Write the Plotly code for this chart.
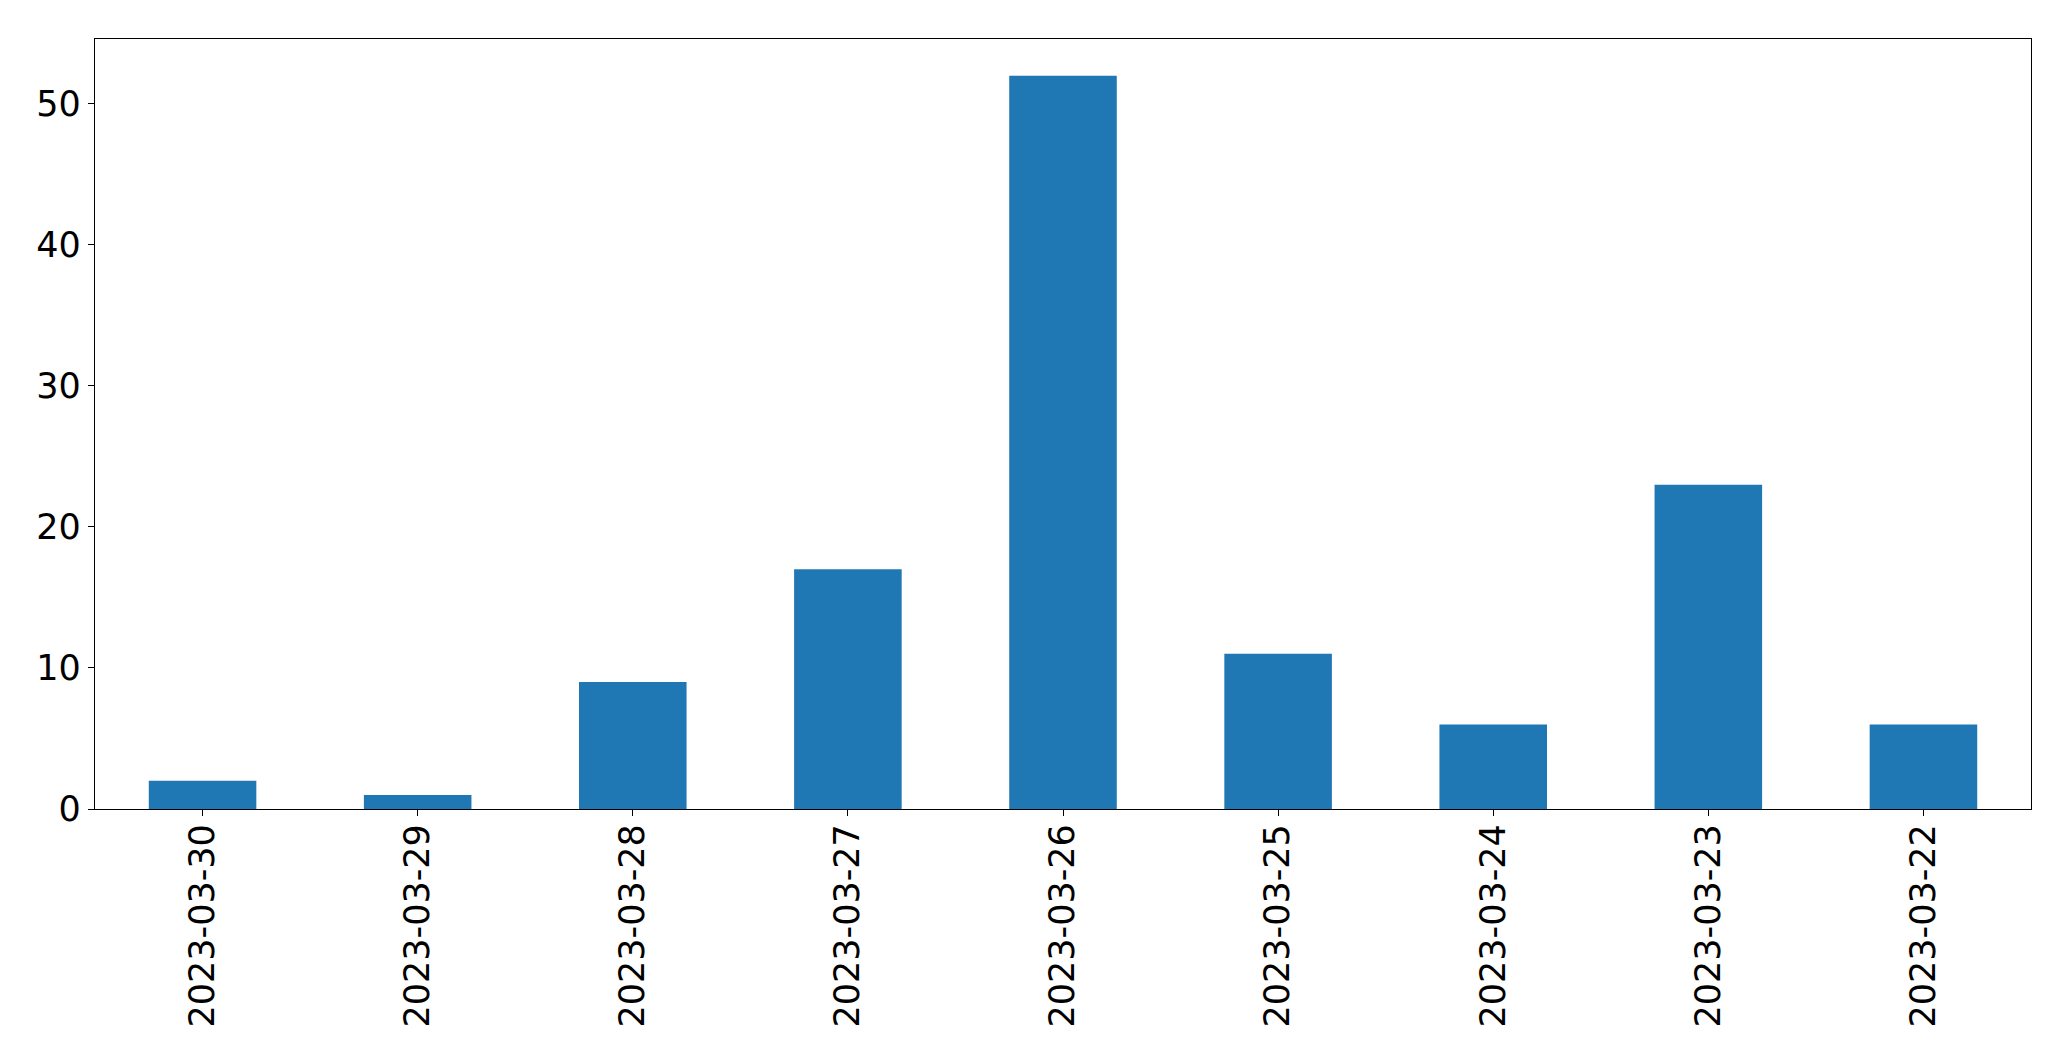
import plotly.graph_objects as go

dates = ["2023-03-30", "2023-03-29", "2023-03-28", "2023-03-27", "2023-03-26",
         "2023-03-25", "2023-03-24", "2023-03-23", "2023-03-22"]
counts = [2, 1, 9, 17, 52, 11, 6, 23, 6]

fig = go.Figure(go.Bar(x=dates, y=counts, marker=dict(color="#1f77b4", line=dict(width=0)), width=0.5))

axis_common = dict(showline=True, linecolor="black", linewidth=1.3, mirror=True,
                   ticks="outside", ticklen=6, tickwidth=1.3, tickcolor="black",
                   showgrid=False, zeroline=False, automargin=False,
                   tickfont=dict(family="DejaVu Sans", size=35, color="black"))

fig.update_layout(
    width=2071, height=1061,
    margin=dict(l=95, r=40, t=39, b=252),
    plot_bgcolor="white", paper_bgcolor="white",
    showlegend=False,
    xaxis=dict(type="category", range=[-0.5, 8.5], tickangle=-90, ticklabelstandoff=-6, **axis_common),
    yaxis=dict(range=[0, 54.6], tickvals=[0, 10, 20, 30, 40, 50], **axis_common),
)

fig.write_html("out.html", config={"displayModeBar": False},
               post_script="document.body.style.margin='0';document.body.style.overflow='hidden';")
